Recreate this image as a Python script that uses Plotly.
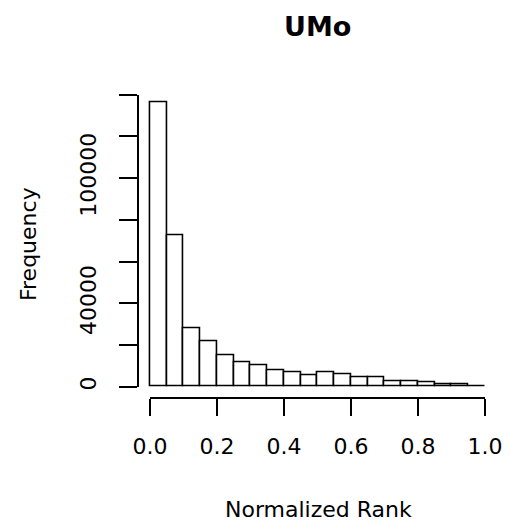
import plotly.graph_objects as go

# Histogram data (bin width 0.05 over Normalized Rank 0..1)
bin_starts = [round(i * 0.05, 2) for i in range(20)]
counts = [136600, 72400, 28000, 21900, 15000, 11500, 10400, 8000, 6900, 5500,
          6900, 5750, 4470, 4470, 2600, 2500, 1950, 1300, 1150, 300]
x_ticks = [0.0, 0.2, 0.4, 0.6, 0.8, 1.0]
x_tick_text = ["0.0", "0.2", "0.4", "0.6", "0.8", "1.0"]
y_ticks = [0, 20000, 40000, 60000, 80000, 100000, 120000, 140000]
y_tick_text = ["0", "", "40000", "", "", "100000", "", ""]
bin_width = 0.05

W, H = 510, 523
FONT = "DejaVu Sans"

def fx(px):
    return px / W

def fy(py):
    return 1 - py / H

# pixel geometry
x0_px, x1_px = 150.0, 485.0          # x = 0 .. 1
y0_px, y1_px = 386.7, 94.7           # y = 0 .. 140000
xs = (x1_px - x0_px) / 1.0
ys = (y0_px - y1_px) / 140000.0

xr = [-0.05, 1.05]
yr = [-5000, 145000]
xdom = [fx(x0_px + xr[0] * xs), fx(x0_px + xr[1] * xs)]
ydom = [fy(y0_px - yr[0] * ys), fy(y0_px - yr[1] * ys)]

centers = [s + bin_width / 2 for s in bin_starts]

fig = go.Figure()
fig.add_trace(go.Bar(
    x=centers, y=counts, width=[bin_width] * len(counts),
    marker=dict(color="white", line=dict(color="black", width=1.6)),
    xaxis="x", yaxis="y", showlegend=False, hoverinfo="skip",
))
# invisible trace to host the R-style axes
fig.add_trace(go.Scatter(x=[0, 1], y=[0, 140000], mode="markers",
                         marker=dict(opacity=0), xaxis="x2", yaxis="y2",
                         showlegend=False, hoverinfo="skip"))

axis_font = dict(family=FONT, size=22, color="black")

fig.update_layout(
    template="none",
    width=W, height=H, autosize=False,
    margin=dict(l=0, r=0, t=0, b=0, pad=0),
    paper_bgcolor="white", plot_bgcolor="rgba(0,0,0,0)",
    bargap=0,
    xaxis=dict(domain=xdom, range=xr, visible=False, fixedrange=True, automargin=False),
    yaxis=dict(domain=ydom, range=yr, visible=False, fixedrange=True, automargin=False),
    xaxis2=dict(domain=[fx(x0_px), fx(x1_px)], range=[0, 1], anchor="free",
                position=fy(398), showline=True, linecolor="black", linewidth=1.6,
                ticks="outside", ticklen=17, tickwidth=1.6, tickcolor="black",
                tickvals=x_ticks, ticktext=x_tick_text, tickfont=axis_font,
                showgrid=False, zeroline=False, ticklabelstandoff=12, automargin=False),
    yaxis2=dict(domain=[fy(y0_px), fy(y1_px)], range=[0, 140000], anchor="free",
                position=fx(137.7), showline=True, linecolor="black", linewidth=1.6,
                ticks="outside", ticklen=18, tickwidth=1.6, tickcolor="black",
                tickvals=y_ticks, ticktext=y_tick_text, tickfont=axis_font,
                tickangle=-90, showgrid=False, zeroline=False, ticklabelstandoff=14,
                automargin=False),
    annotations=[
        dict(text="<b>UMo</b>", x=fx(317.5), y=fy(27), xref="paper", yref="paper",
             showarrow=False, xanchor="center", yanchor="middle",
             font=dict(family=FONT, size=27, color="black")),
        dict(text="Normalized Rank", x=fx(318), y=fy(509), xref="paper", yref="paper",
             showarrow=False, xanchor="center", yanchor="middle", font=axis_font),
        dict(text="Frequency", x=fx(28), y=fy(244), xref="paper", yref="paper",
             showarrow=False, xanchor="center", yanchor="middle", textangle=-90,
             font=axis_font),
    ],
)

fig.write_html("out.html")
